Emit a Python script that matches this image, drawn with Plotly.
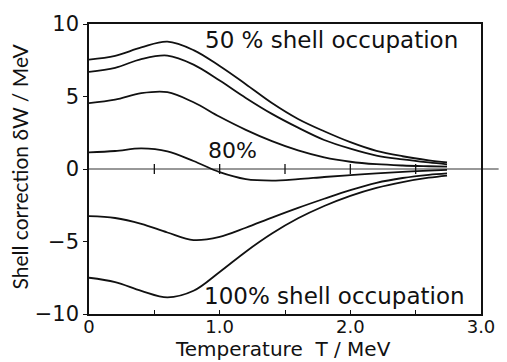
import plotly.graph_objects as go

# Temperature grid (MeV)
temperature = [0, 0.2, 0.4, 0.6, 0.8, 1.0, 1.2, 1.4, 1.6, 1.8, 2.0, 2.2, 2.4, 2.6, 2.74]

# Shell correction dW (MeV) for the different shell occupations
dw_50 = [7.55, 7.8, 8.38, 8.78, 8.2, 7.1, 5.85, 4.55, 3.45, 2.6, 1.85, 1.25, 0.88, 0.6, 0.45]
dw_60 = [6.7, 6.98, 7.58, 7.82, 7.2, 6.1, 4.9, 3.8, 2.85, 2.0, 1.4, 0.92, 0.66, 0.45, 0.32]
dw_70 = [4.55, 4.78, 5.23, 5.3, 4.6, 3.6, 2.7, 1.92, 1.28, 0.8, 0.5, 0.33, 0.24, 0.19, 0.16]
dw_80 = [1.15, 1.24, 1.42, 1.22, 0.55, -0.22, -0.7, -0.8, -0.7, -0.55, -0.42, -0.3, -0.2, -0.11, -0.06]
dw_90 = [-3.25, -3.38, -3.78, -4.38, -4.9, -4.68, -4.05, -3.35, -2.68, -2.05, -1.45, -0.95, -0.62, -0.4, -0.3]
dw_100 = [-7.5, -7.8, -8.4, -8.85, -8.4, -7.1, -5.7, -4.45, -3.4, -2.55, -1.85, -1.3, -0.9, -0.6, -0.45]

curves = [dw_50, dw_60, dw_70, dw_80, dw_90, dw_100]

# Axis ticks
x_tickvals = [0, 0.5, 1.0, 1.5, 2.0, 2.5, 3.0]
x_ticktext = ["0", "", "1.0", "", "2.0", "", "3.0"]
y_tickvals = [-10, -5, 0, 5, 10]
y_ticktext = ["\u221210", "\u22125", "0", "5", "10"]
zero_marks = [0.5, 1.0, 1.5, 2.0, 2.5]

INK = "#111111"
FONT = "DejaVu Sans"

fig = go.Figure()

for dw in curves:
    fig.add_trace(go.Scatter(
        x=temperature, y=dw, mode="lines",
        line=dict(color=INK, width=1.8, shape="spline", smoothing=1.0),
        showlegend=False, hoverinfo="skip",
    ))

# small tick marks along the T axis at dW = 0
fig.add_trace(go.Scatter(
    x=zero_marks, y=[0] * len(zero_marks), mode="markers",
    marker=dict(symbol="line-ns", size=7, line=dict(color=INK, width=1.3)),
    showlegend=False, hoverinfo="skip",
))

# dW = 0 reference line, running slightly past the frame
fig.add_shape(type="line", xref="paper", yref="y", x0=0, x1=1.045, y0=0, y1=0,
              line=dict(color="#333333", width=1.1), layer="below")

fig.add_annotation(x=1.853, y=8.89, text="50 % shell occupation", showarrow=False,
                   font=dict(family=FONT, size=23, color=INK))
fig.add_annotation(x=1.10, y=1.31, text="80%", showarrow=False,
                   font=dict(family=FONT, size=22, color=INK))
fig.add_annotation(x=1.875, y=-8.76, text="100% shell occupation", showarrow=False,
                   font=dict(family=FONT, size=23, color=INK))

fig.add_annotation(xref="paper", yref="paper", x=0.495, y=-0.119,
                   text="Temperature  T / MeV", showarrow=False,
                   xanchor="center", yanchor="middle",
                   font=dict(family=FONT, size=20, color=INK))
fig.add_annotation(xref="paper", yref="paper", x=-0.1775, y=0.51,
                   text="Shell correction \u03b4W / MeV", showarrow=False,
                   textangle=-90, xanchor="center", yanchor="middle",
                   font=dict(family="Lato", size=21, color=INK))

fig.update_layout(
    width=507, height=362,
    margin=dict(l=89, r=18, t=16, b=48),
    paper_bgcolor="white", plot_bgcolor="white",
    xaxis=dict(range=[0, 3], tickvals=x_tickvals, ticktext=x_ticktext,
               ticks="inside", ticklen=4, tickcolor=INK, tickwidth=1.3,
               ticklabelstandoff=-4,
               showline=True, linecolor=INK, linewidth=1.6, mirror=True,
               showgrid=False, zeroline=False,
               tickfont=dict(family=FONT, size=18, color=INK)),
    yaxis=dict(range=[-10, 10], tickvals=y_tickvals, ticktext=y_ticktext,
               ticks="outside", ticklen=4, tickcolor=INK, tickwidth=1.3,
               showline=True, linecolor=INK, linewidth=1.6, mirror=True,
               showgrid=False, zeroline=False,
               tickfont=dict(family=FONT, size=21, color=INK)),
)

fig.write_html("out.html")
